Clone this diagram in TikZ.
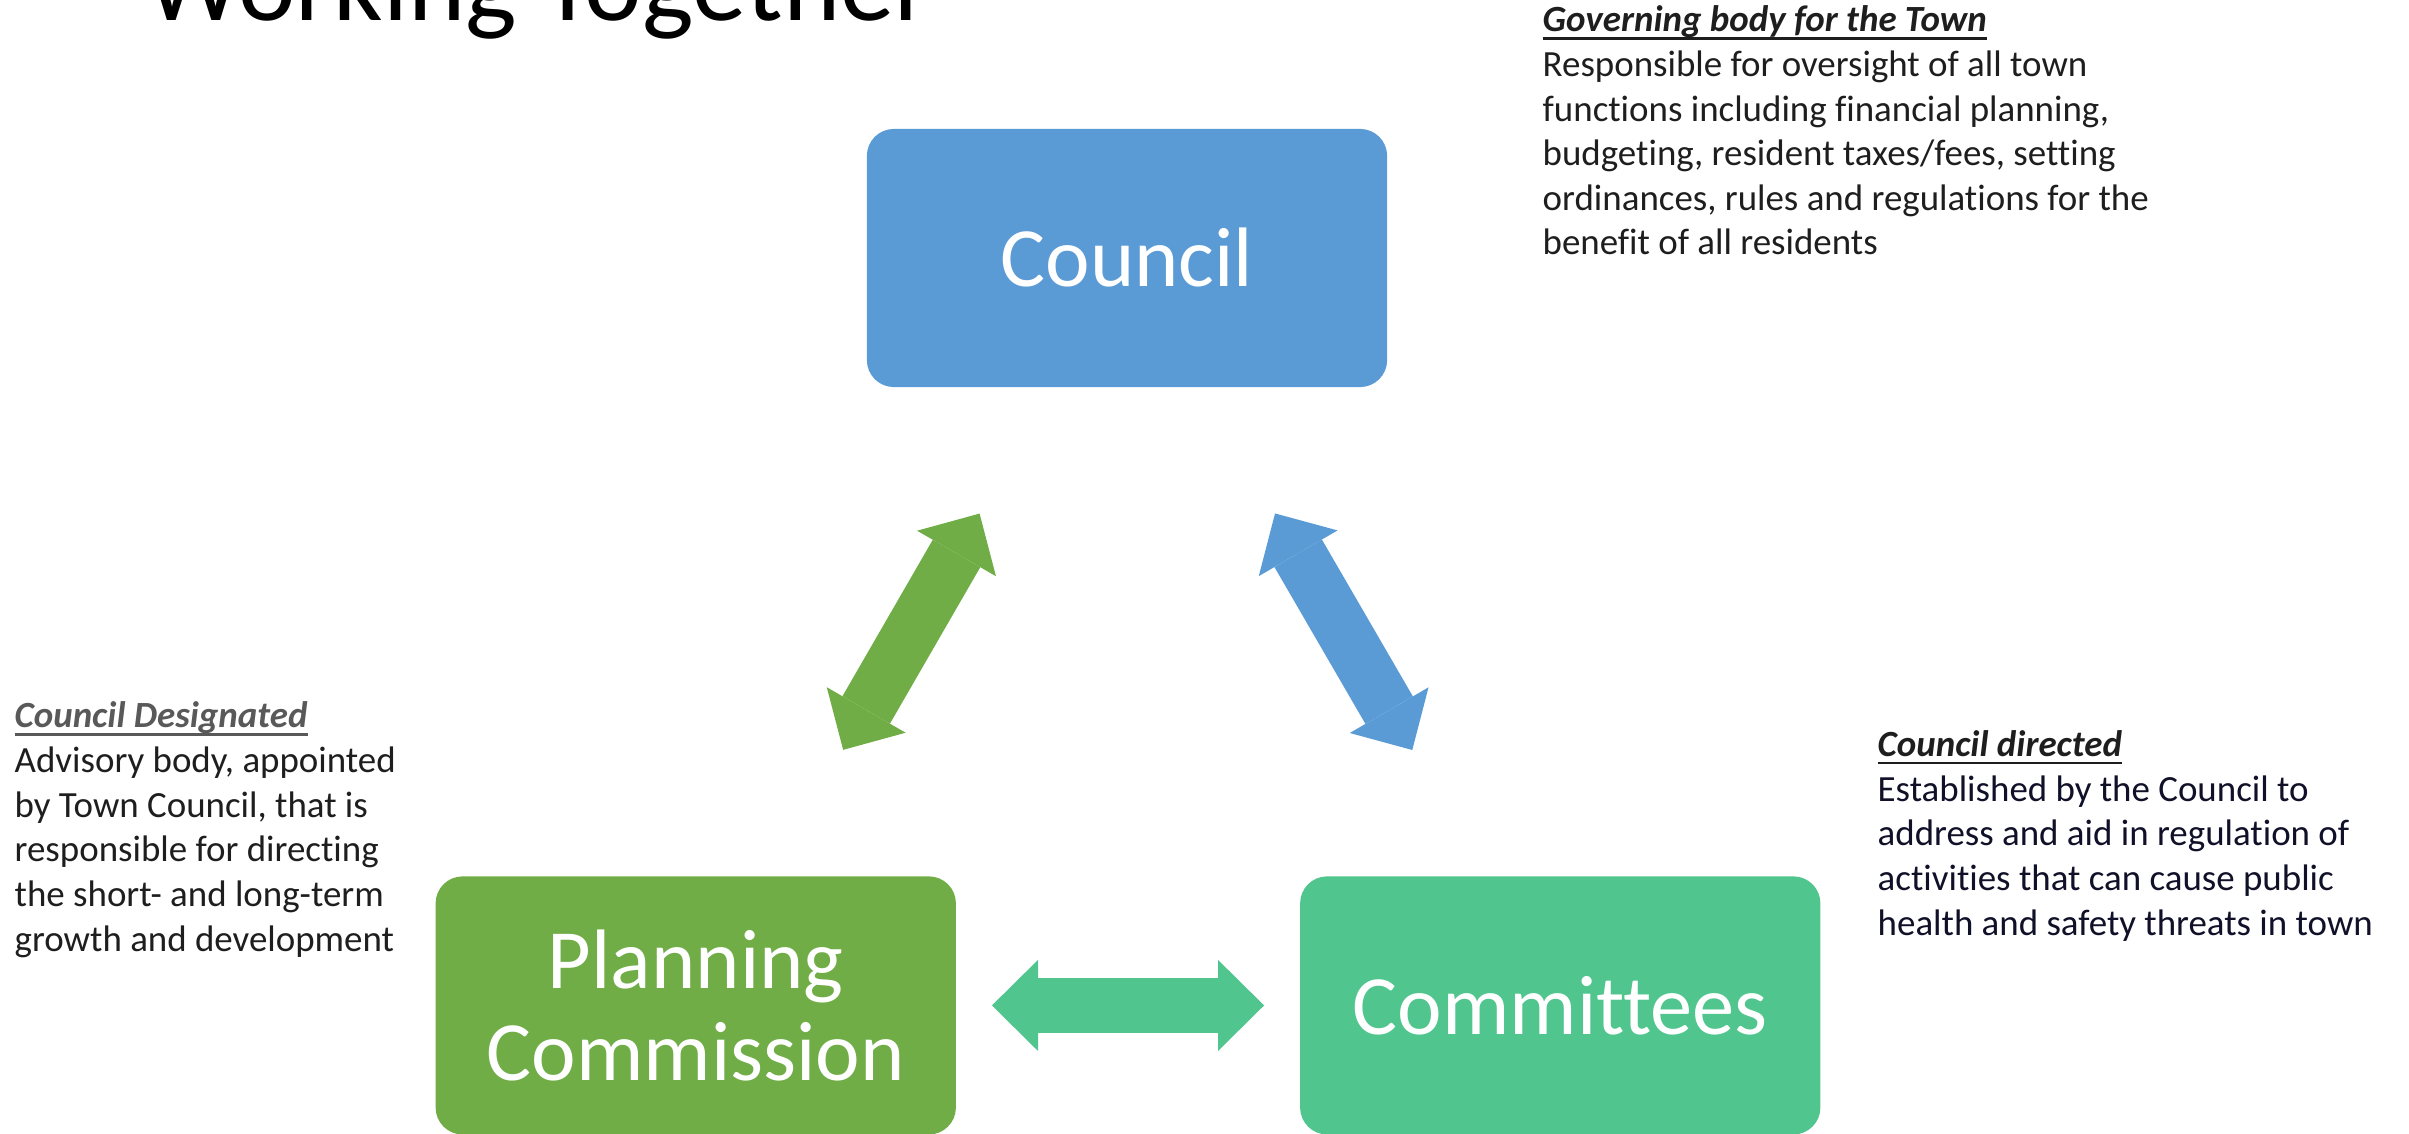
\documentclass[tikz,border=0pt]{standalone}
\usepackage{fontspec}
\setmainfont{Carlito}[Ligatures=NoCommon]
\usetikzlibrary{arrows.meta, positioning}
\definecolor{councilblue}{RGB}{91,155,213}
\definecolor{planninggreen}{RGB}{112,173,71}
\definecolor{committeeteal}{RGB}{80,197,142}
\definecolor{notegray}{RGB}{89,89,89}
\definecolor{noteink}{RGB}{30,30,30}
\definecolor{notenavy}{RGB}{16,16,40}
\tikzset{
  box/.style = {rectangle, rounded corners=0.27cm, minimum width=5.2cm, minimum height=2.58cm,
    inner sep=0pt, outer sep=0pt, text=white, align=center, font=\fontsize{24}{26.2}\selectfont},
  note/.style = {anchor=base west, align=left, inner sep=0pt, font=\fontsize{10.5}{12.7}\selectfont},
  link/.style = {<->, line width=15.6pt, shorten <=1.46cm, shorten >=1.46cm}
}
\newcommand{\notehead}[1]{\setbox0=\hbox{\bfseries\itshape #1}\rlap{\rule[-2.3pt]{\wd0}{0.7pt}}\box0}

\begin{document}
\begin{tikzpicture}[x=0.01cm, y=-0.01cm, >={Triangle[width=25.9pt, length=13.1pt, line width=0pt]}]
    \useasboundingbox (0,0) rectangle (2409,1134);

    % Place the nodes
    \node [box, fill=councilblue] (council) at (1127,258) {Council};
    \node [box, fill=planninggreen, below=4.89cm of council, xshift=-4.31cm] (planning) {Planning\\Commission};
    \node [box, fill=committeeteal, right=3.44cm of planning] (committees) {Committees};

    % Title and the notes beside the boxes (anchored at their last baseline)
    \node [anchor=base west, inner sep=0pt, font=\fontsize{31}{37}\selectfont] (title) at (145,21) {Working Together};
    \node [note, text=noteink] (designated) at (14,951)
      {{\color{notegray}\notehead{Council Designated}}\\
       Advisory body, appointed\\
       by Town Council, that is\\
       responsible for directing\\
       the short- and long-term\\
       growth and development};
    \node [note, text=noteink] (governing) at (1542,255)
      {\notehead{Governing body for the Town}\\
       Responsible for oversight of all town\\
       functions including financial planning,\\
       budgeting, resident taxes/fees, setting\\
       ordinances, rules and regulations for the\\
       benefit of all residents};
    \node [note, text=notenavy] (directed) at (1877,935)
      {{\color{noteink}\notehead{Council directed}}\\
       Established by the Council to\\
       address and aid in regulation of\\
       activities that can cause public\\
       health and safety threats in town};

    % Draw the two-way arrows between the boxes
    \draw [link, draw=planninggreen] (planning) -- (council);
    \draw [link, draw=councilblue] (committees) -- (council);
    \draw [link, draw=committeeteal, shorten <=0.36cm, shorten >=0.36cm] (planning) -- (committees);

\end{tikzpicture}
\end{document}
